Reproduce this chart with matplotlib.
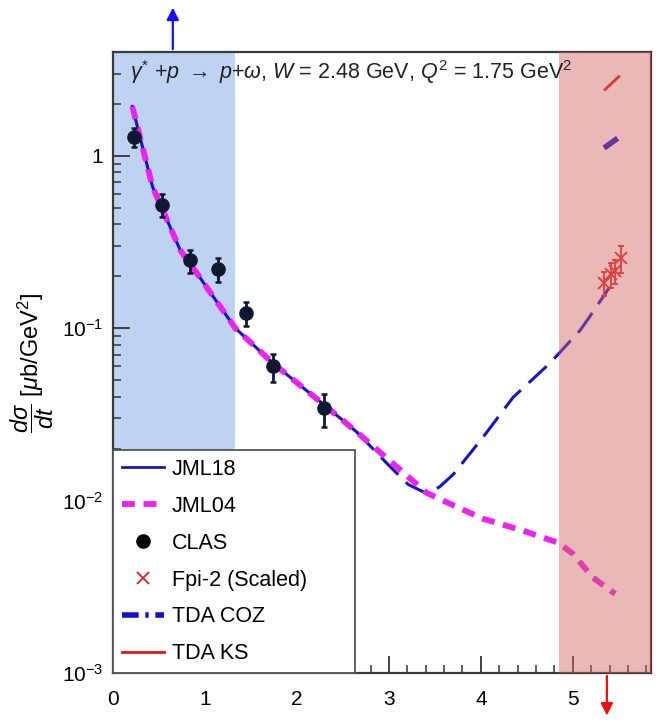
import numpy as np
import matplotlib.pyplot as plt
from matplotlib.lines import Line2D
from matplotlib.ticker import FixedLocator, FixedFormatter, LogLocator, MultipleLocator, NullFormatter

plt.rcParams['font.family'] = ['Liberation Sans', 'DejaVu Sans']
plt.rcParams['mathtext.fontset'] = 'custom'
plt.rcParams['mathtext.rm'] = 'Liberation Sans'
plt.rcParams['mathtext.it'] = 'Liberation Sans:italic'
plt.rcParams['mathtext.sf'] = 'Liberation Sans'

# CLAS data
clas_t = [0.23, 0.53, 0.84, 1.14, 1.45, 1.74, 2.29]
clas_xs = [1.29, 0.52, 0.248, 0.220, 0.122, 0.060, 0.0343]
clas_err = [0.16, 0.08, 0.038, 0.035, 0.019, 0.011, 0.0075]

# Fpi-2 (scaled)
fpi_t = [5.34, 5.41, 5.46, 5.52]
fpi_xs = [0.183, 0.205, 0.215, 0.255]
fpi_err = [0.030, 0.035, 0.035, 0.045]

# JML18 model (solid part, then long dashed)
jml18_t = [0.21, 0.43, 0.73, 0.91, 1.33, 1.74, 2.33, 2.65, 3.0, 3.21, 3.41, 3.55, 3.70, 4.02, 4.35, 4.75, 5.08, 5.18, 5.40]
jml18_xs = [1.93, 0.66, 0.284, 0.209, 0.100, 0.0626, 0.0347, 0.0250, 0.0160, 0.0124, 0.0110, 0.0120, 0.0142, 0.0232, 0.0397, 0.0626, 0.0973, 0.116, 0.173]
jml18_solid_end = 8

# JML04 model
jml04_t = [0.21, 0.43, 0.73, 0.91, 1.33, 1.74, 2.33, 2.65, 3.41, 3.66, 4.02, 4.46, 4.84, 5.00, 5.22, 5.46]
jml04_xs = [1.93, 0.66, 0.284, 0.209, 0.100, 0.0626, 0.0347, 0.0250, 0.0111, 0.00961, 0.00786, 0.00669, 0.00570, 0.00492, 0.00357, 0.00288]

# TDA predictions
coz_t = [5.34, 5.51]
coz_xs = [1.11, 1.29]
ks_t = [5.35, 5.50]
ks_xs = [2.42, 2.88]

ytick_vals = [1e-3, 1e-2, 1e-1, 1]
ytick_labels = ['$10^{-3}$', '$10^{-2}$', '$10^{-1}$', '1']
legend_labels = ['JML18', 'JML04', 'CLAS', 'Fpi-2 (Scaled)', 'TDA COZ', 'TDA KS']

fig = plt.figure(figsize=(6.56, 7.28), dpi=100)
ax = fig.add_axes([0.1723, 0.0755, 0.8201, 0.8531])

ax.axvspan(0, 1.33, color='#bed3f2', zorder=0, lw=0)
ax.axvspan(4.85, 5.85, color='#d36363', alpha=0.45, zorder=10, lw=0)

blue = '#1515c8'
magenta = '#ee22ee'
ax.plot(jml18_t[:jml18_solid_end], jml18_xs[:jml18_solid_end], color=blue, lw=2.2, zorder=3)
ax.plot(jml18_t[jml18_solid_end - 1:], jml18_xs[jml18_solid_end - 1:], color=blue, lw=2.2,
        dashes=(8, 3.5), zorder=3)
ax.plot(jml04_t, jml04_xs, color=magenta, lw=4.2, dashes=(2.2, 1.5), zorder=4)
ax.errorbar(clas_t, clas_xs, yerr=clas_err, fmt='o', color='#0f1830', ms=9.5, capsize=2.5,
            elinewidth=2, capthick=1.8, zorder=6)
ax.errorbar(fpi_t, fpi_xs, yerr=fpi_err, fmt='x', color='#e02020', ms=8, mew=1.3, capsize=2.5,
            elinewidth=1.3, zorder=6)
ax.plot(coz_t, coz_xs, color='#1010d0', lw=4, dashes=(3, 1.2, 0.6, 1.2), zorder=6)
ax.plot(ks_t, ks_xs, color='#e01515', lw=2, zorder=6)

ax.set_yscale('log')
ax.set_xlim(0, 5.85)
ax.set_ylim(1e-3, 4)

ax.yaxis.set_major_locator(FixedLocator(ytick_vals))
ax.yaxis.set_major_formatter(FixedFormatter(ytick_labels))
ax.yaxis.set_minor_locator(LogLocator(base=10, subs=np.arange(2, 10)))
ax.yaxis.set_minor_formatter(NullFormatter())
ax.xaxis.set_major_locator(MultipleLocator(1))
ax.xaxis.set_minor_locator(MultipleLocator(0.2))

ax.tick_params(which='both', direction='in', top=False, right=False, labelsize=15, color='#333333')
ax.tick_params(axis='y', pad=7)
ax.tick_params(axis='x', pad=12)
ax.tick_params(which='major', length=12, width=1.3)
ax.tick_params(which='minor', length=6, width=1.1)
for s in ax.spines.values():
    s.set_linewidth(1.6)
    s.set_color('#3a3a3a')
ax.spines['right'].set_color('#5a2a2a')

ax.set_ylabel(r'$\dfrac{d\sigma}{dt}$ [$\mu$b/GeV$^2$]', fontsize=17, labelpad=4)

ax.text(0.032, 0.968, r'$\gamma^{*}$ +$p$ $\rightarrow$ $p$+$\omega$, $W$ = 2.48 GeV, $Q^2$ = 1.75 GeV$^2$',
        transform=ax.transAxes, fontsize=15.5, va='center', ha='left', color='#222222', zorder=12)

handles = [
    Line2D([], [], color=blue, lw=2),
    Line2D([], [], color=magenta, lw=4.2, dashes=(2.2, 1.5)),
    Line2D([], [], color='black', marker='o', ms=9.5, ls='none'),
    Line2D([], [], color='#e02020', marker='x', ms=8, mew=1.3, ls='none'),
    Line2D([], [], color='#1010d0', lw=4, dashes=(3, 1.2, 0.6, 1.2)),
    Line2D([], [], color='#e01515', lw=2),
]
leg = ax.legend(handles, legend_labels, loc='lower left', bbox_to_anchor=(0, 0, 0.449, 0.353),
                mode='expand', borderaxespad=0, fontsize=15.5, frameon=True, fancybox=False,
                handlelength=1.95, handletextpad=0.37, labelspacing=0.74, borderpad=0.4,
                framealpha=1)
leg.get_frame().set_edgecolor('#555555')
leg.get_frame().set_linewidth(1.3)
leg.set_zorder(20)

# arrows marking the kinematic limits
ax.annotate('', xy=(0.65, 1.076), xytext=(0.65, 1.0), xycoords=('data', 'axes fraction'),
            textcoords=('data', 'axes fraction'), annotation_clip=False,
            arrowprops=dict(arrowstyle='-|>', color='#1010ff', lw=1.6, mutation_scale=18))
ax.annotate('', xy=(5.37, -0.073), xytext=(5.37, 0.0), xycoords=('data', 'axes fraction'),
            textcoords=('data', 'axes fraction'), annotation_clip=False,
            arrowprops=dict(arrowstyle='-|>', color='#ee1010', lw=1.6, mutation_scale=18))

fig.savefig('out.png', dpi=100)
